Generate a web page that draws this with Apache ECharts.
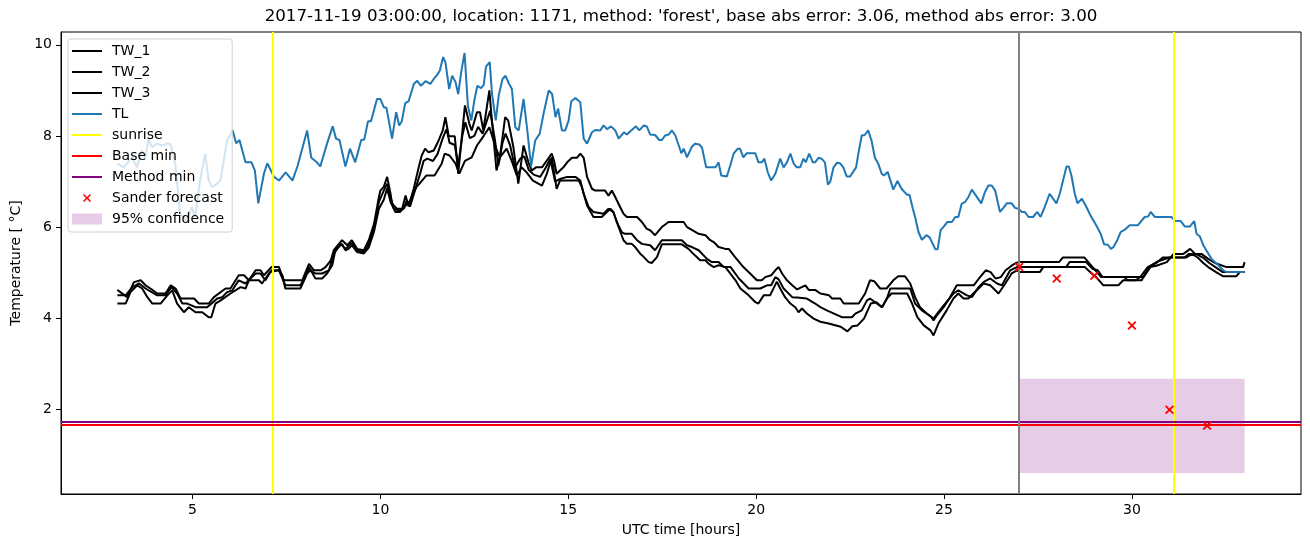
<!DOCTYPE html>
<html><head><meta charset="utf-8">
<script src="https://cdn.jsdelivr.net/npm/echarts@6/dist/echarts.min.js"></script>
<style>html,body{margin:0;padding:0;background:#fff}#c{width:1310px;height:547px}</style>
</head><body><div id="c"></div>
<script>
// ---- data (x = UTC hours, y = temperature °C) ----
const tlPoints = [[3.00,7.39],[3.17,7.31],[3.39,7.53],[3.52,7.31],[3.66,7.68],[3.74,7.50],[3.83,7.94],[3.92,7.75],[4.05,7.83],[4.19,7.79],[4.32,7.83],[4.41,7.83],[4.54,7.39],[4.67,6.29],[4.85,6.14],[4.98,6.44],[5.07,6.22],[5.20,7.02],[5.34,7.61],[5.43,7.02],[5.52,6.88],[5.65,6.95],[5.74,7.02],[5.83,7.46],[5.92,7.90],[6.07,8.12],[6.16,7.84],[6.25,7.91],[6.41,7.42],[6.57,7.42],[6.66,7.24],[6.75,6.52],[6.90,7.17],[6.99,7.40],[7.17,7.10],[7.30,7.02],[7.48,7.20],[7.66,7.02],[7.80,7.35],[8.05,8.12],[8.16,7.52],[8.31,7.42],[8.40,7.33],[8.58,7.83],[8.73,8.21],[8.82,7.94],[8.91,7.91],[9.07,7.33],[9.19,7.72],[9.33,7.42],[9.49,7.91],[9.57,7.92],[9.67,8.32],[9.75,8.32],[9.91,8.81],[10.00,8.81],[10.09,8.63],[10.16,8.62],[10.31,7.94],[10.42,8.52],[10.50,8.23],[10.57,8.32],[10.66,8.72],[10.75,8.76],[10.89,9.14],[10.98,9.21],[11.08,9.10],[11.20,9.20],[11.33,9.14],[11.42,9.25],[11.51,9.34],[11.58,9.43],[11.67,9.73],[11.73,9.62],[11.83,9.03],[11.91,9.32],[12.00,9.18],[12.07,8.92],[12.16,9.45],[12.24,9.82],[12.33,8.65],[12.42,8.34],[12.50,8.78],[12.58,9.10],[12.68,9.05],[12.75,9.12],[12.81,9.52],[12.91,9.62],[12.97,8.92],[13.07,8.34],[13.15,8.89],[13.25,9.25],[13.33,9.32],[13.42,9.15],[13.50,9.03],[13.59,8.19],[13.68,8.12],[13.81,8.81],[13.91,8.12],[14.01,7.33],[14.12,7.90],[14.24,8.05],[14.35,8.52],[14.48,9.00],[14.57,8.92],[14.66,8.41],[14.73,8.60],[14.83,8.12],[14.92,8.12],[15.01,8.34],[15.08,8.76],[15.19,8.83],[15.32,8.74],[15.41,7.94],[15.50,7.83],[15.63,8.08],[15.72,8.13],[15.85,8.12],[15.94,8.23],[16.03,8.15],[16.14,8.21],[16.25,8.12],[16.34,7.94],[16.48,8.08],[16.56,8.03],[16.69,8.13],[16.80,8.21],[16.89,8.12],[17.01,8.23],[17.09,8.21],[17.18,8.03],[17.31,8.02],[17.42,7.91],[17.49,7.91],[17.58,8.01],[17.67,8.03],[17.76,8.12],[17.85,8.01],[18.01,7.62],[18.07,7.72],[18.16,7.53],[18.28,7.75],[18.37,7.83],[18.49,7.81],[18.56,7.74],[18.67,7.31],[18.92,7.31],[19.00,7.42],[19.07,7.13],[19.22,7.11],[19.31,7.35],[19.40,7.61],[19.51,7.72],[19.57,7.72],[19.66,7.53],[19.75,7.62],[19.98,7.62],[20.06,7.42],[20.15,7.42],[20.22,7.50],[20.31,7.20],[20.40,7.02],[20.51,7.17],[20.64,7.50],[20.73,7.31],[20.82,7.42],[20.91,7.61],[21.00,7.39],[21.08,7.31],[21.17,7.31],[21.26,7.50],[21.32,7.42],[21.41,7.61],[21.51,7.42],[21.57,7.42],[21.66,7.52],[21.74,7.50],[21.83,7.42],[21.91,6.93],[21.97,6.99],[22.06,7.31],[22.15,7.41],[22.23,7.40],[22.32,7.31],[22.41,7.11],[22.50,7.11],[22.66,7.31],[22.72,7.61],[22.81,8.01],[22.89,8.02],[22.98,8.12],[23.07,7.90],[23.16,7.52],[23.25,7.39],[23.34,7.17],[23.40,7.13],[23.50,7.21],[23.65,6.82],[23.76,7.01],[23.87,6.84],[24.01,6.71],[24.08,6.71],[24.17,6.40],[24.23,6.22],[24.32,5.89],[24.41,5.72],[24.53,5.82],[24.61,5.78],[24.70,5.63],[24.77,5.51],[24.83,5.51],[24.91,5.93],[24.98,6.00],[25.09,6.11],[25.21,6.11],[25.30,6.22],[25.38,6.22],[25.47,6.51],[25.56,6.55],[25.65,6.66],[25.74,6.82],[25.85,6.69],[25.99,6.52],[26.09,6.77],[26.18,6.91],[26.27,6.91],[26.36,6.80],[26.49,6.33],[26.58,6.42],[26.67,6.52],[26.80,6.52],[26.89,6.42],[26.98,6.40],[27.07,6.33],[27.15,6.33],[27.25,6.22],[27.37,6.22],[27.48,6.33],[27.57,6.22],[27.68,6.44],[27.81,6.73],[27.99,6.52],[28.08,6.73],[28.26,7.33],[28.32,7.33],[28.39,7.13],[28.48,6.73],[28.55,6.52],[28.67,6.62],[28.79,6.44],[28.90,6.25],[29.05,6.04],[29.17,5.85],[29.26,5.62],[29.36,5.61],[29.44,5.52],[29.50,5.55],[29.61,5.71],[29.70,5.89],[29.81,5.94],[29.94,6.04],[30.16,6.04],[30.34,6.22],[30.43,6.23],[30.50,6.33],[30.61,6.22],[31.05,6.22],[31.14,6.14],[31.30,6.13],[31.41,6.01],[31.54,6.01],[31.66,6.13],[31.72,5.85],[31.81,5.79],[31.90,5.60],[32.12,5.30],[32.30,5.16],[32.43,5.05],[32.52,5.01],[33.00,5.01]];

const tw1Points = [[3.00,4.62],[3.13,4.54],[3.26,4.46],[3.44,4.79],[3.62,4.83],[3.75,4.72],[3.88,4.65],[4.06,4.54],[4.28,4.54],[4.42,4.72],[4.55,4.65],[4.68,4.43],[5.04,4.43],[5.17,4.32],[5.43,4.32],[5.57,4.46],[5.70,4.54],[5.88,4.65],[6.01,4.65],[6.23,4.94],[6.37,4.94],[6.50,4.83],[6.68,5.05],[6.81,5.05],[6.90,4.94],[7.10,5.12],[7.30,5.12],[7.43,4.83],[7.92,4.83],[8.10,5.19],[8.23,5.05],[8.41,5.05],[8.54,5.12],[8.68,5.27],[8.76,5.49],[8.98,5.71],[9.12,5.60],[9.24,5.71],[9.38,5.52],[9.56,5.49],[9.69,5.71],[9.83,6.07],[9.96,6.66],[10.00,6.80],[10.09,6.88],[10.18,7.10],[10.27,6.73],[10.31,6.51],[10.44,6.40],[10.58,6.40],[10.67,6.69],[10.75,6.45],[10.89,6.85],[11.02,7.31],[11.10,7.57],[11.19,7.72],[11.28,7.64],[11.42,7.68],[11.55,7.90],[11.66,8.12],[11.73,8.41],[11.82,7.99],[11.98,7.99],[12.07,7.17],[12.25,8.67],[12.37,8.26],[12.43,8.12],[12.57,8.52],[12.65,8.52],[12.74,8.12],[12.90,9.00],[12.96,8.41],[13.09,7.24],[13.18,7.53],[13.32,8.41],[13.40,8.34],[13.54,7.75],[13.67,6.95],[13.81,7.79],[13.94,7.42],[14.03,7.24],[14.14,7.31],[14.30,7.31],[14.43,7.46],[14.56,7.61],[14.62,7.46],[14.69,7.17],[14.87,7.31],[14.97,7.42],[15.10,7.52],[15.23,7.52],[15.32,7.61],[15.41,7.52],[15.50,7.10],[15.63,6.84],[15.72,6.80],[15.98,6.80],[16.07,6.69],[16.16,6.80],[16.25,6.66],[16.38,6.44],[16.47,6.29],[16.56,6.22],[16.83,6.22],[16.96,6.11],[17.09,5.96],[17.18,5.93],[17.31,5.82],[17.49,6.00],[17.67,6.11],[18.07,6.11],[18.16,6.00],[18.47,5.85],[18.65,5.82],[18.78,5.71],[18.87,5.67],[19.00,5.56],[19.18,5.52],[19.27,5.52],[19.44,5.34],[19.66,5.12],[19.84,4.98],[20.02,4.83],[20.15,4.83],[20.24,4.90],[20.40,4.94],[20.51,5.05],[20.60,5.12],[20.69,4.98],[20.82,4.83],[20.96,4.72],[21.09,4.63],[21.31,4.72],[21.40,4.62],[21.57,4.62],[21.71,4.54],[21.94,4.50],[22.02,4.43],[22.24,4.43],[22.33,4.32],[22.73,4.32],[22.90,4.54],[23.03,4.83],[23.14,4.81],[23.30,4.65],[23.47,4.65],[23.65,4.83],[23.78,4.92],[23.96,4.92],[24.10,4.76],[24.23,4.46],[24.36,4.24],[24.54,4.10],[24.67,4.02],[24.72,3.95],[24.81,4.06],[24.99,4.24],[25.16,4.46],[25.34,4.72],[25.79,4.72],[25.93,4.87],[26.11,5.05],[26.24,5.01],[26.37,4.87],[26.51,4.90],[26.64,5.05],[26.78,5.14],[26.91,5.21],[27.01,5.23],[28.06,5.23],[28.16,5.33],[28.74,5.33],[28.88,5.19],[29.18,4.90],[30.31,4.90],[30.49,5.12],[30.65,5.15],[30.93,5.23],[31.11,5.41],[31.37,5.41],[31.55,5.52],[31.68,5.41],[31.85,5.41],[32.03,5.30],[32.21,5.21],[32.52,5.12],[32.96,5.12],[33.00,5.23]];

const tw2Points = [[3.00,4.50],[3.22,4.50],[3.40,4.68],[3.58,4.76],[3.75,4.65],[4.06,4.50],[4.28,4.50],[4.44,4.68],[4.59,4.54],[4.73,4.32],[4.86,4.32],[5.08,4.24],[5.39,4.24],[5.66,4.43],[5.79,4.46],[5.92,4.57],[6.06,4.61],[6.23,4.83],[6.41,4.76],[6.54,4.87],[6.68,4.98],[6.81,4.98],[6.94,4.83],[7.10,5.05],[7.30,5.05],[7.47,4.72],[7.87,4.72],[8.05,4.98],[8.14,5.05],[8.27,4.98],[8.45,4.98],[8.63,5.05],[8.76,5.41],[8.94,5.63],[9.07,5.52],[9.15,5.58],[9.24,5.65],[9.38,5.49],[9.56,5.45],[9.69,5.62],[9.83,5.98],[9.96,6.55],[10.09,6.80],[10.18,6.95],[10.27,6.65],[10.36,6.40],[10.50,6.36],[10.62,6.40],[10.70,6.58],[10.79,6.45],[10.92,6.80],[11.05,7.15],[11.15,7.45],[11.25,7.50],[11.40,7.45],[11.52,7.60],[11.66,7.95],[11.76,8.15],[11.84,7.85],[11.98,7.80],[12.07,7.35],[12.18,8.00],[12.26,8.30],[12.38,7.95],[12.50,8.00],[12.60,8.20],[12.72,8.05],[12.82,8.30],[12.92,8.55],[13.05,7.90],[13.14,7.35],[13.25,7.85],[13.33,8.05],[13.45,7.80],[13.58,7.30],[13.72,7.50],[13.83,7.55],[13.95,7.25],[14.08,7.15],[14.25,7.10],[14.40,7.30],[14.52,7.50],[14.65,7.00],[14.80,7.06],[14.97,7.10],[15.19,7.10],[15.32,7.02],[15.41,6.73],[15.54,6.44],[15.67,6.33],[15.94,6.29],[16.07,6.40],[16.20,6.33],[16.29,6.11],[16.42,5.89],[16.51,5.85],[16.69,5.85],[16.83,5.71],[16.96,5.63],[17.18,5.60],[17.31,5.49],[17.49,5.71],[18.02,5.71],[18.16,5.60],[18.29,5.56],[18.47,5.49],[18.69,5.30],[18.82,5.23],[19.00,5.23],[19.14,5.12],[19.32,5.12],[19.54,4.87],[19.80,4.65],[20.11,4.65],[20.29,4.72],[20.40,4.72],[20.51,4.90],[20.60,4.85],[20.73,4.65],[20.96,4.46],[21.09,4.45],[21.35,4.43],[21.57,4.32],[21.71,4.24],[21.88,4.17],[22.28,4.02],[22.55,4.02],[22.64,4.10],[22.81,4.17],[22.95,4.39],[23.03,4.43],[23.21,4.32],[23.35,4.24],[23.48,4.43],[23.57,4.65],[24.10,4.65],[24.23,4.32],[24.41,4.17],[24.54,4.10],[24.72,3.99],[24.85,4.13],[25.03,4.32],[25.25,4.54],[25.38,4.61],[25.61,4.50],[25.74,4.46],[25.92,4.68],[26.05,4.79],[26.23,4.87],[26.41,4.76],[26.54,4.72],[26.76,5.05],[26.94,5.12],[27.01,5.12],[28.25,5.12],[28.34,5.23],[28.78,5.23],[28.96,5.08],[29.09,5.05],[29.22,4.90],[29.80,4.90],[29.88,4.83],[30.11,4.83],[30.24,4.92],[30.42,5.12],[30.65,5.21],[30.82,5.33],[31.40,5.33],[31.51,5.41],[31.70,5.41],[31.89,5.33],[32.06,5.21],[32.24,5.11],[32.42,5.01],[33.00,5.01]];

const tw3Points = [[3.00,4.32],[3.22,4.32],[3.35,4.57],[3.53,4.72],[3.66,4.65],[3.80,4.46],[3.93,4.32],[4.15,4.32],[4.33,4.50],[4.46,4.61],[4.59,4.32],[4.77,4.13],[4.90,4.24],[5.08,4.13],[5.26,4.13],[5.43,4.02],[5.50,4.02],[5.61,4.32],[5.75,4.39],[6.01,4.54],[6.28,4.68],[6.41,4.65],[6.50,4.83],[6.77,4.83],[6.85,4.76],[7.06,5.01],[7.30,5.05],[7.39,4.94],[7.47,4.65],[7.87,4.65],[8.01,4.90],[8.10,5.12],[8.27,4.87],[8.45,4.87],[8.58,4.98],[8.72,5.16],[8.80,5.49],[8.98,5.63],[9.07,5.49],[9.15,5.52],[9.24,5.60],[9.38,5.45],[9.56,5.42],[9.69,5.55],[9.83,5.90],[9.96,6.40],[10.09,6.60],[10.18,6.85],[10.27,6.55],[10.40,6.33],[10.52,6.33],[10.79,6.58],[10.96,6.88],[11.04,6.95],[11.22,7.13],[11.44,7.13],[11.63,7.39],[11.71,7.61],[11.84,7.57],[12.00,7.39],[12.10,7.17],[12.25,7.45],[12.43,7.53],[12.57,7.79],[12.70,7.94],[12.90,8.19],[13.08,7.72],[13.18,7.53],[13.36,7.72],[13.49,7.46],[13.63,7.13],[13.76,7.31],[13.89,7.20],[14.06,7.02],[14.30,6.91],[14.43,7.17],[14.56,7.53],[14.69,6.84],[14.78,7.02],[15.01,7.02],[15.28,7.02],[15.36,6.88],[15.50,6.47],[15.67,6.22],[15.89,6.22],[16.12,6.40],[16.20,6.33],[16.34,6.00],[16.47,5.71],[16.56,5.63],[16.69,5.63],[16.78,5.56],[16.92,5.41],[17.01,5.34],[17.14,5.23],[17.22,5.21],[17.36,5.34],[17.49,5.62],[18.02,5.62],[18.20,5.52],[18.33,5.41],[18.42,5.34],[18.51,5.27],[18.65,5.27],[18.74,5.19],[18.87,5.12],[19.00,5.16],[19.18,5.12],[19.31,4.98],[19.45,4.83],[19.58,4.65],[19.80,4.50],[19.98,4.35],[20.06,4.32],[20.20,4.50],[20.37,4.50],[20.55,4.80],[20.64,4.65],[20.77,4.46],[20.91,4.32],[21.04,4.24],[21.13,4.13],[21.22,4.21],[21.35,4.10],[21.53,3.99],[21.71,3.92],[21.93,3.88],[22.25,3.81],[22.43,3.71],[22.56,3.82],[22.70,3.84],[22.87,3.99],[23.05,4.32],[23.20,4.35],[23.35,4.24],[23.48,4.43],[23.60,4.54],[24.02,4.54],[24.15,4.32],[24.29,4.02],[24.46,3.84],[24.64,3.73],[24.72,3.62],[24.85,3.88],[25.07,4.17],[25.25,4.43],[25.38,4.54],[25.52,4.43],[25.65,4.43],[25.78,4.54],[25.92,4.65],[26.05,4.76],[26.23,4.72],[26.45,4.54],[26.63,4.76],[26.80,4.98],[26.94,5.05],[27.01,5.01],[27.55,5.01],[27.64,5.12],[28.75,5.12],[28.90,5.00],[29.05,4.90],[29.24,4.72],[29.64,4.72],[29.77,4.83],[30.26,4.83],[30.44,5.12],[30.70,5.25],[31.00,5.33],[31.45,5.33],[31.60,5.41],[31.75,5.33],[31.90,5.21],[32.03,5.12],[32.24,5.01],[32.42,4.92],[32.78,4.92],[32.87,5.01],[33.00,5.01]];

const sanderHours = [27, 28, 29, 30, 31, 32];
const sanderValues = [5.12, 4.87, 4.93, 3.84, 1.99, 1.64];
const sunriseHours = [7.14, 31.11];
const forecastHour = 27;
const baseMin = 1.66;
const methodMin = 1.72;
const confHours = [27, 33];
const confRange = [0.60, 2.67];
const xTicks = [5, 10, 15, 20, 25, 30];
const yTicks = [2, 4, 6, 8, 10];
const titleText = "2017-11-19 03:00:00, location: 1171, method: 'forest', base abs error: 3.06, method abs error: 3.00";

// ---- chart ----
const FONT = 'DejaVu Sans';
const X_SYMBOL = 'path://M0,1.4L1.4,0L5,3.6L8.6,0L10,1.4L6.4,5L10,8.6L8.6,10L5,6.4L1.4,10L0,8.6L3.6,5Z';
// legend icons: invisible corner points keep the 30x11 box so the shapes are not stretched
const X_LEGEND = 'path://M0,0L0.01,0L0,0.01Z M11,2.62L12.12,1.5L15,4.38L17.88,1.5L19,2.62L16.12,5.5L19,8.38L17.88,9.5L15,6.62L12.12,9.5L11,8.38L13.88,5.5Z M30,11L29.99,11L30,10.99Z';
const LINE_LEGEND = 'path://M0,0L0.01,0L0,0.01Z M0,4.5L30,4.5L30,6.5L0,6.5Z M30,11L29.99,11L30,10.99Z';

const chart = echarts.init(document.getElementById('c'), null, {renderer: 'canvas'});

function lineSeries(name, pts, color) {
  return {
    name, type: 'line', data: pts, symbol: 'none', showSymbol: false,
    lineStyle: {color, width: 2}, itemStyle: {color}, z: 2, silent: true
  };
}
function markOnly(name, color, markData, z, width) {
  return {
    name, type: 'line', data: [], symbol: 'none', z,
    lineStyle: {color, width}, itemStyle: {color},
    markLine: {
      silent: true, symbol: ['none', 'none'], label: {show: false}, animation: false,
      lineStyle: {color, width, type: 'solid'}, emphasis: {disabled: true},
      data: markData
    }
  };
}
function lineLegend(name, color) {
  return {name, icon: LINE_LEGEND, itemStyle: {color, borderWidth: 0, opacity: 1}};
}

const option = {
  animation: false,
  backgroundColor: '#fff',
  textStyle: {fontFamily: FONT},
  graphic: [{
    type: 'text', x: 681, y: 17, z: 10,
    style: {text: titleText, fill: '#000', font: '16.7px "DejaVu Sans"', align: 'center', verticalAlign: 'middle', textAlign: 'center', textVerticalAlign: 'middle'}
  }],
  grid: {left: 61, right: 9, top: 32, bottom: 53, show: true, borderColor: '#000', borderWidth: 1, backgroundColor: 'transparent'},
  xAxis: {
    type: 'value', min: 1.5, max: 34.5,
    splitLine: {show: false},
    axisLine: {show: true, onZero: false, lineStyle: {color: '#000', width: 1}},
    axisTick: {show: true, length: 5, lineStyle: {color: '#000', width: 1}, customValues: xTicks},
    axisLabel: {customValues: xTicks, color: '#000', fontSize: 14, fontFamily: FONT, margin: 9},
    name: 'UTC time [hours]', nameLocation: 'middle', nameGap: 29,
    nameTextStyle: {color: '#000', fontSize: 14, fontFamily: FONT}
  },
  yAxis: {
    type: 'value', min: 0.139, max: 10.281,
    splitLine: {show: false},
    axisLine: {show: true, onZero: false, lineStyle: {color: '#000', width: 1}},
    axisTick: {show: true, length: 5, lineStyle: {color: '#000', width: 1}, customValues: yTicks},
    axisLabel: {customValues: yTicks, color: '#000', fontSize: 14, fontFamily: FONT, margin: 9},
    name: 'Temperature [ \u00B0C]', nameLocation: 'middle', nameGap: 36, nameRotate: 90,
    nameTextStyle: {color: '#000', fontSize: 14, fontFamily: FONT}
  },
  legend: {
    orient: 'vertical', left: 68, top: 39,
    padding: [4, 8, 5, 4], itemGap: 5, itemWidth: 30, itemHeight: 11,
    backgroundColor: 'rgba(255,255,255,0.8)', borderColor: '#d0d0d0', borderWidth: 1, borderRadius: 3,
    selectedMode: false,
    textStyle: {fontFamily: FONT, fontSize: 14, color: '#000', lineHeight: 16, padding: [0, 0, 0, 5]},
    data: [
      lineLegend('TW_1', '#000000'), lineLegend('TW_2', '#000000'), lineLegend('TW_3', '#000000'),
      lineLegend('TL', '#1f77b4'), lineLegend('sunrise', '#ffff00'),
      lineLegend('Base min', '#ff0000'), lineLegend('Method min', '#800080'),
      {name: 'Sander forecast', icon: X_LEGEND, itemStyle: {color: '#ff0000', borderWidth: 0, opacity: 1}},
      {name: '95% confidence', icon: 'rect', itemStyle: {color: 'rgba(128,0,128,0.2)', borderWidth: 0}}
    ],
    z: 6
  },
  series: [
    {
      name: '95% confidence', type: 'line', data: [], symbol: 'none', z: 1,
      lineStyle: {color: 'rgba(128,0,128,0.2)', width: 0}, itemStyle: {color: 'rgba(128,0,128,0.2)'},
      markArea: {
        silent: true, animation: false, itemStyle: {color: 'rgba(128,0,128,0.2)'},
        data: [[{xAxis: confHours[0], yAxis: confRange[0]}, {xAxis: confHours[1], yAxis: confRange[1]}]]
      }
    },
    lineSeries('TW_1', tw1Points, '#000000'),
    lineSeries('TW_2', tw2Points, '#000000'),
    lineSeries('TW_3', tw3Points, '#000000'),
    lineSeries('TL', tlPoints, '#1f77b4'),
    markOnly('sunrise', '#ffff00', sunriseHours.map(h => ({xAxis: h})), 3, 2),
    markOnly('Base min', '#ff0000', [{yAxis: baseMin}], 3, 2),
    markOnly('Method min', '#800080', [{yAxis: methodMin}], 3, 2),
    markOnly('forecast time', '#808080', [{xAxis: forecastHour}], 3, 2),
    {
      name: 'Sander forecast', type: 'scatter', z: 5, silent: true,
      symbol: X_SYMBOL, symbolSize: 9,
      itemStyle: {color: '#ff0000', opacity: 1},
      data: sanderHours.map((h, i) => [h, sanderValues[i]])
    }
  ]
};
chart.setOption(option);
</script>
</body></html>
